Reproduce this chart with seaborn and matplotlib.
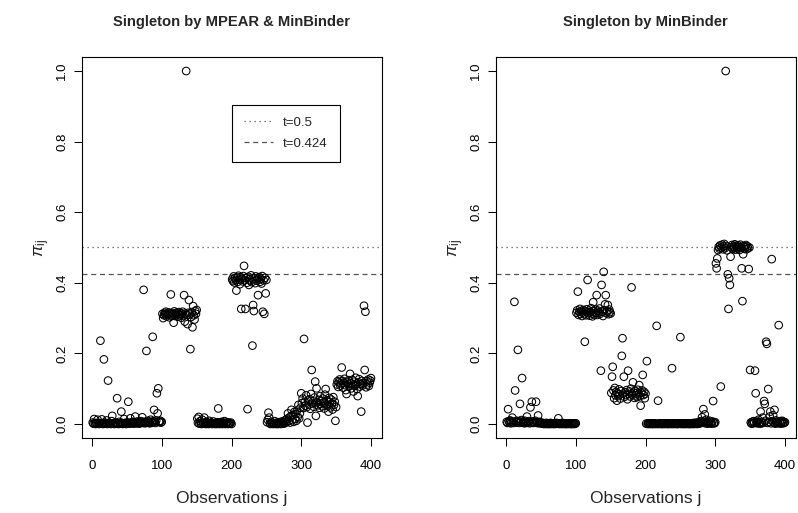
import numpy as np
import pandas as pd
import matplotlib
matplotlib.use("Agg")
import matplotlib.pyplot as plt
from matplotlib.lines import Line2D
import seaborn as sns

# ---------------- data: posterior co-clustering probabilities pi_ij ----------------
obs = np.arange(1, 401)

# Left panel: singleton chosen by MPEAR & MinBinder
left_001_050 = [0.004, 0.001, 0.014, 0.002, 0.000, 0.003, 0.001, 0.012, 0.002, 0.000,
                0.003, 0.236, 0.001, 0.013, 0.002, 0.000, 0.183, 0.004, 0.001, 0.002,
                0.010, 0.000, 0.123, 0.003, 0.001, 0.002, 0.000, 0.008, 0.023, 0.001,
                0.002, 0.000, 0.004, 0.001, 0.003, 0.073, 0.002, 0.000, 0.006, 0.001,
                0.002, 0.035, 0.003, 0.000, 0.001, 0.014, 0.002, 0.003, 0.000, 0.004]
left_051_100 = [0.002, 0.063, 0.003, 0.001, 0.016, 0.004, 0.002, 0.006, 0.003, 0.001,
                0.005, 0.021, 0.002, 0.004, 0.007, 0.003, 0.001, 0.005, 0.002, 0.008,
                0.004, 0.019, 0.003, 0.380, 0.006, 0.002, 0.005, 0.207, 0.004, 0.009,
                0.003, 0.006, 0.002, 0.012, 0.005, 0.004, 0.247, 0.008, 0.040, 0.006,
                0.003, 0.010, 0.087, 0.030, 0.101, 0.007, 0.005, 0.009, 0.004, 0.006]
left_101_150 = [0.312, 0.300, 0.308, 0.315, 0.311, 0.318, 0.305, 0.313, 0.309, 0.316,
                0.302, 0.312, 0.367, 0.307, 0.314, 0.310, 0.287, 0.319, 0.306, 0.313,
                0.309, 0.316, 0.304, 0.311, 0.317, 0.308, 0.314, 0.301, 0.312, 0.318,
                0.306, 0.365, 0.290, 0.313, 1.000, 0.309, 0.283, 0.315, 0.351, 0.310,
                0.212, 0.303, 0.317, 0.274, 0.334, 0.308, 0.296, 0.320, 0.312, 0.323]
left_151_200 = [0.015, 0.003, 0.020, 0.001, 0.008, 0.002, 0.000, 0.012, 0.003, 0.001,
                0.018, 0.002, 0.000, 0.006, 0.001, 0.003, 0.000, 0.009, 0.002, 0.001,
                0.004, 0.000, 0.002, 0.007, 0.001, 0.000, 0.003, 0.002, 0.000, 0.005,
                0.044, 0.001, 0.000, 0.004, 0.002, 0.006, 0.000, 0.001, 0.003, 0.008,
                0.000, 0.002, 0.001, 0.005, 0.000, 0.003, 0.002, 0.001, 0.004, 0.000]
left_201_250 = [0.410, 0.405, 0.418, 0.401, 0.413, 0.408, 0.378, 0.415, 0.403, 0.420,
                0.409, 0.396, 0.416, 0.326, 0.411, 0.404, 0.419, 0.448, 0.407, 0.326,
                0.414, 0.400, 0.042, 0.417, 0.394, 0.410, 0.406, 0.421, 0.402, 0.222,
                0.337, 0.320, 0.412, 0.399, 0.418, 0.406, 0.413, 0.365, 0.409, 0.416,
                0.403, 0.411, 0.398, 0.419, 0.318, 0.407, 0.312, 0.414, 0.370, 0.408]
left_251_300 = [0.005, 0.012, 0.032, 0.018, 0.002, 0.000, 0.006, 0.001, 0.003, 0.000,
                0.002, 0.008, 0.001, 0.000, 0.004, 0.002, 0.000, 0.005, 0.001, 0.003,
                0.000, 0.007, 0.002, 0.004, 0.001, 0.009, 0.003, 0.012, 0.006, 0.015,
                0.030, 0.008, 0.018, 0.004, 0.022, 0.040, 0.011, 0.026, 0.006, 0.034,
                0.014, 0.028, 0.009, 0.038, 0.020, 0.054, 0.016, 0.030, 0.046, 0.087]
left_301_350 = [0.059, 0.072, 0.045, 0.241, 0.063, 0.052, 0.081, 0.048, 0.004, 0.066,
                0.055, 0.070, 0.043, 0.085, 0.153, 0.058, 0.064, 0.049, 0.075, 0.120,
                0.023, 0.101, 0.061, 0.053, 0.068, 0.046, 0.079, 0.057, 0.065, 0.050,
                0.072, 0.060, 0.044, 0.083, 0.099, 0.056, 0.067, 0.051, 0.035, 0.074,
                0.062, 0.047, 0.069, 0.058, 0.041, 0.076, 0.054, 0.063, 0.009, 0.048]
left_351_400 = [0.112, 0.121, 0.105, 0.118, 0.126, 0.109, 0.115, 0.160, 0.122, 0.103,
                0.117, 0.128, 0.110, 0.096, 0.085, 0.119, 0.113, 0.124, 0.107, 0.142,
                0.116, 0.101, 0.125, 0.111, 0.092, 0.120, 0.108, 0.131, 0.114, 0.099,
                0.079, 0.118, 0.127, 0.106, 0.113, 0.035, 0.122, 0.109, 0.116, 0.335,
                0.153, 0.318, 0.104, 0.121, 0.112, 0.126, 0.108, 0.117, 0.123, 0.130]

# Right panel: singleton chosen by MinBinder
right_001_050 = [0.006, 0.003, 0.042, 0.008, 0.004, 0.010, 0.002, 0.007, 0.018, 0.005,
                 0.003, 0.346, 0.095, 0.006, 0.009, 0.004, 0.210, 0.008, 0.003, 0.057,
                 0.006, 0.011, 0.130, 0.004, 0.007, 0.002, 0.009, 0.005, 0.003, 0.021,
                 0.006, 0.004, 0.008, 0.002, 0.047, 0.005, 0.063, 0.007, 0.003, 0.006,
                 0.004, 0.009, 0.063, 0.003, 0.005, 0.024, 0.002, 0.006, 0.003, 0.004]
right_051_100 = [0.002, 0.001, 0.003, 0.000, 0.002, 0.001, 0.000, 0.003, 0.001, 0.000,
                 0.002, 0.000, 0.001, 0.003, 0.000, 0.002, 0.001, 0.000, 0.002, 0.001,
                 0.000, 0.003, 0.001, 0.002, 0.016, 0.000, 0.001, 0.002, 0.000, 0.001,
                 0.003, 0.000, 0.001, 0.002, 0.000, 0.001, 0.000, 0.002, 0.001, 0.000,
                 0.001, 0.002, 0.000, 0.001, 0.000, 0.002, 0.001, 0.000, 0.001, 0.002]
right_101_150 = [0.315, 0.322, 0.375, 0.309, 0.318, 0.326, 0.312, 0.320, 0.306, 0.316,
                 0.323, 0.311, 0.233, 0.319, 0.308, 0.325, 0.408, 0.314, 0.321, 0.307,
                 0.317, 0.328, 0.313, 0.305, 0.345, 0.319, 0.310, 0.324, 0.315, 0.365,
                 0.309, 0.321, 0.316, 0.327, 0.312, 0.151, 0.394, 0.318, 0.306, 0.431,
                 0.322, 0.339, 0.365, 0.314, 0.320, 0.337, 0.311, 0.324, 0.317, 0.313]
right_151_200 = [0.088, 0.134, 0.162, 0.095, 0.073, 0.102, 0.081, 0.091, 0.066, 0.087,
                 0.079, 0.098, 0.084, 0.072, 0.093, 0.193, 0.243, 0.086, 0.134, 0.077,
                 0.090, 0.082, 0.096, 0.070, 0.151, 0.085, 0.092, 0.078, 0.100, 0.387,
                 0.083, 0.118, 0.089, 0.074, 0.094, 0.081, 0.087, 0.076, 0.097, 0.084,
                 0.110, 0.079, 0.052, 0.088, 0.095, 0.139, 0.082, 0.091, 0.073, 0.086]
right_201_250 = [0.001, 0.178, 0.000, 0.002, 0.001, 0.000, 0.001, 0.002, 0.000, 0.001,
                 0.000, 0.002, 0.001, 0.000, 0.001, 0.278, 0.000, 0.066, 0.001, 0.000,
                 0.002, 0.001, 0.000, 0.001, 0.000, 0.002, 0.001, 0.000, 0.001, 0.002,
                 0.000, 0.001, 0.000, 0.002, 0.001, 0.000, 0.001, 0.158, 0.000, 0.002,
                 0.001, 0.000, 0.001, 0.002, 0.000, 0.001, 0.000, 0.002, 0.001, 0.246]
right_251_300 = [0.000, 0.001, 0.002, 0.000, 0.001, 0.000, 0.002, 0.001, 0.000, 0.001,
                 0.002, 0.000, 0.001, 0.000, 0.002, 0.001, 0.000, 0.001, 0.003, 0.000,
                 0.002, 0.001, 0.004, 0.000, 0.003, 0.001, 0.005, 0.002, 0.008, 0.003,
                 0.019, 0.004, 0.042, 0.006, 0.027, 0.002, 0.012, 0.005, 0.001, 0.006,
                 0.003, 0.009, 0.002, 0.004, 0.001, 0.007, 0.065, 0.003, 0.002, 0.005]
right_301_350 = [0.455, 0.441, 0.469, 0.493, 0.502, 0.497, 0.506, 0.106, 0.499, 0.508,
                 0.495, 0.503, 0.510, 0.498, 1.000, 0.504, 0.492, 0.424, 0.326, 0.413,
                 0.394, 0.474, 0.501, 0.507, 0.496, 0.503, 0.499, 0.509, 0.494, 0.505,
                 0.500, 0.497, 0.506, 0.502, 0.493, 0.508, 0.499, 0.441, 0.348, 0.481,
                 0.504, 0.496, 0.501, 0.507, 0.495, 0.503, 0.498, 0.439, 0.500, 0.153]
right_351_400 = [0.004, 0.001, 0.006, 0.002, 0.008, 0.003, 0.151, 0.087, 0.005, 0.002,
                 0.007, 0.012, 0.003, 0.001, 0.035, 0.006, 0.002, 0.018, 0.004, 0.065,
                 0.057, 0.009, 0.233, 0.227, 0.003, 0.099, 0.006, 0.021, 0.035, 0.002,
                 0.467, 0.008, 0.025, 0.004, 0.040, 0.001, 0.010, 0.003, 0.006, 0.002,
                 0.280, 0.005, 0.008, 0.001, 0.004, 0.009, 0.002, 0.006, 0.003, 0.005]

pi_left = np.concatenate([left_001_050, left_051_100, left_101_150, left_151_200,
                          left_201_250, left_251_300, left_301_350, left_351_400])
pi_right = np.concatenate([right_001_050, right_051_100, right_101_150, right_151_200,
                           right_201_250, right_251_300, right_301_350, right_351_400])

titles = ["Singleton by MPEAR & MinBinder", "Singleton by MinBinder"]
thresholds = [0.5, 0.424]
threshold_labels = ["t=0.5", "t=0.424"]
x_ticks = [0, 100, 200, 300, 400]
y_ticks = [0.0, 0.2, 0.4, 0.6, 0.8, 1.0]
y_tick_labels = ["0.0", "0.2", "0.4", "0.6", "0.8", "1.0"]

# ---------------- figure ----------------
sns.set_style("ticks")
plt.rcParams["font.family"] = ["Liberation Sans", "DejaVu Sans"]
plt.rcParams["mathtext.fontset"] = "custom"
plt.rcParams["mathtext.it"] = "Liberation Sans:italic"
plt.rcParams["mathtext.rm"] = "Liberation Sans"

fig = plt.figure(figsize=(7.98, 5.13), dpi=100)
W, H = 798, 513
ax_left = fig.add_axes([81.6 / W, 1 - 438.1 / H, 300.5 / W, 381.2 / H])
ax_right = fig.add_axes([495.6 / W, 1 - 438.1 / H, 300.5 / W, 381.2 / H])

line_styles = [(0, (1, 3)), (0, (4, 3))]
line_color = "#555555"

for ax, values, title in zip([ax_left, ax_right], [pi_left, pi_right], titles):
    df = pd.DataFrame({"j": obs, "pi": values})
    sns.scatterplot(data=df, x="j", y="pi", ax=ax, marker="o", s=30,
                    facecolors="none", edgecolors="black", linewidth=0.75,
                    legend=False, zorder=3)
    for t, ls in zip(thresholds, line_styles):
        ax.axhline(t, color=line_color, linestyle=ls, linewidth=0.9, zorder=2)

    ax.set_xlim(1 - 0.04 * 399, 400 + 0.04 * 399)
    ax.set_ylim(-0.04, 1.04)
    ax.set_xticks(x_ticks)
    ax.set_xticklabels([str(v) for v in x_ticks])
    ax.set_yticks(y_ticks)
    ax.set_yticklabels(y_tick_labels, rotation=90, va="center")
    ax.tick_params(direction="out", length=5.5, width=0.75, labelsize=9.5,
                   colors="black")
    ax.tick_params(axis="x", pad=10)
    ax.tick_params(axis="y", pad=4)
    for sp in ax.spines.values():
        sp.set_visible(True)
        sp.set_linewidth(0.8)
        sp.set_color("black")
    ax.set_xlabel("Observations j", fontsize=12.5, labelpad=14)
    ax.set_ylabel(r"$\pi_{\mathrm{ij}}$", fontsize=12.5)
    ax.yaxis.set_label_coords(-0.1, 0.5)
    ax.set_title(title, fontsize=10.6, fontweight="bold", pad=22)
    ax.grid(False)

handles = [Line2D([], [], color=line_color, linestyle=ls, linewidth=0.9)
           for ls in line_styles]
leg = ax_left.legend(handles, threshold_labels, loc="upper left",
                     bbox_to_anchor=(0.4995, 0.874), borderaxespad=0,
                     fancybox=False, framealpha=1, edgecolor="black",
                     fontsize=9.5, handlelength=2.2, handletextpad=0.8,
                     borderpad=0.9, labelspacing=0.65)
leg.get_frame().set_linewidth(0.8)

fig.savefig("out.png", dpi=100)
